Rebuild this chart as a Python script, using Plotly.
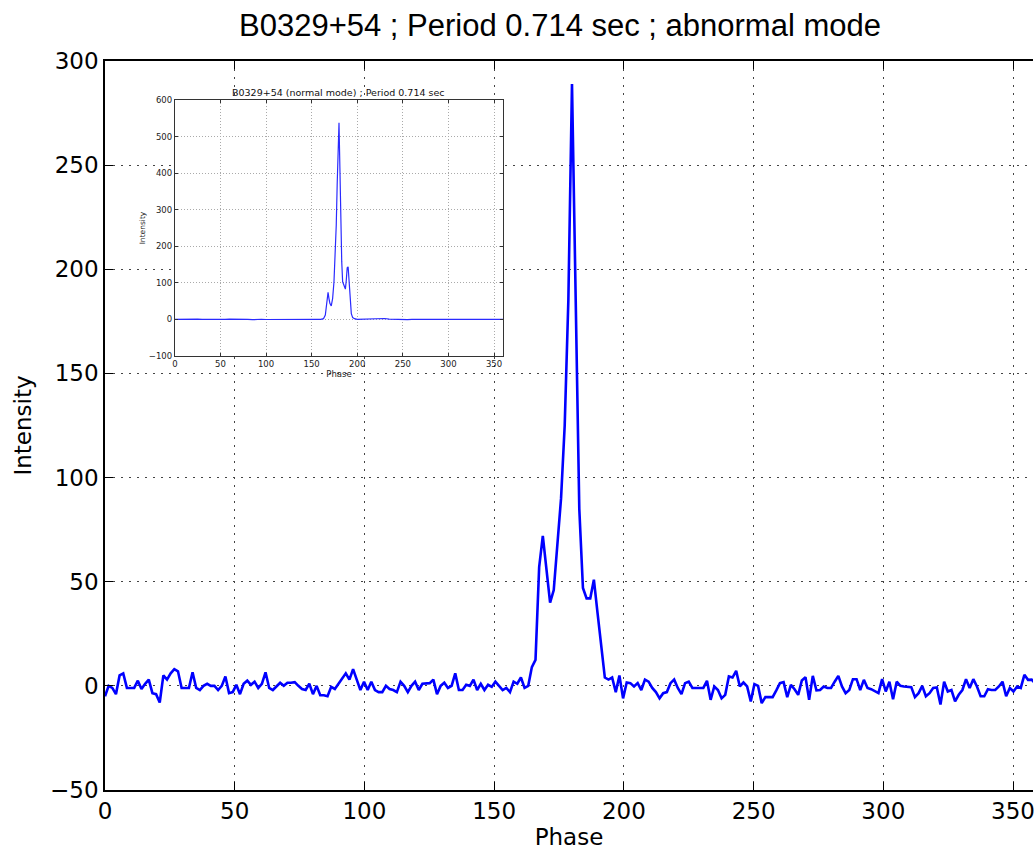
import plotly.graph_objects as go

# ---------------- data ----------------
N_BINS = 256
phase = [i * 360 / N_BINS for i in range(N_BINS)]

intensity_abnormal = [
    # bins 0-48
    -5, 0, -1, -4, 5, 6, -1, -1, -1, 2.5,
    -1.5, 1, 3, -3.5, -4, -8, 5, 3, 6, 8,
    7, -1, -1, -1, 6.5, -1, -2, 0, 1, 0,
    0, -2, 0, 4.5, -3.5, -3, 0.5, -4, 1, 2.5,
    0.5, 2, -1, 1, 6.5, -1, -2, 0, 1.5,
    # bins 49-101
    0, 1.5, 1.5, 1.8, 0, -1.5, -2, 1, -4, 0,
    -4.5, -4.5, -5, -0.5, -1.5, 1, 3.5, 6, 3, 8,
    3, -2, 2, -2, 2, -2, -3, -3, 0, -1.5,
    -2, -3, 2, 0, -3, 0, 2, -2, 1, 1,
    1.3, 3, -4, 0, 1.5, -1, 0, 6, -2, -2,
    0.5, 0, 3,
    # bins 102-118
    -2, 1, -2, 0.5, -0.5, 2, 0, -2, -1, -3, 2, 1, 4, -1, 0, 9, 12.5,
    # bins 119-138 (pulse)
    57, 72, 55, 40, 46, 66, 90, 125, 185, 289,
    190, 85, 47, 42, 42, 51, 35, 20, 4, 3,
    # bins 139-161
    4, -3, 5, -6, 1.6, 1.3, -0.3, 1.3, -2, 3,
    2, -1, -3, -6, -3.5, -3, 1.3, 3, -1, -4,
    1.3, 2, -1,
    # bins 162-198
    -1, -1, -1, 2.4, -6.7, -0.3, -2, -6, -4.3, 4.5,
    4, 7.2, -0.3, 1.6, -0.3, -7.5, 0.8, 0, -8.3, -5.4,
    -5.4, -5.4, -2.2, 1.3, 1.8, -5.4, 0.5, -1.6, -4.3, 2.6,
    4.2, -6.7, 4.8, -2.2, -2, -0.3, -1,
    # bins 199-255
    -1, 2, 4.8, -0.3, -3.5, -2, 3.2, 3.2, -2, 2.9,
    -1, -1.6, -2.7, -3.5, 3.2, -2.7, 2, -6.4, 2, 0,
    -0.3, -0.5, -0.6, -5.4, -3.5, 0, -5, -3.5, -1, -0.8,
    -9, 2, -2.7, -2, -7.5, -4.3, -2, 3.2, -1, 3.2,
    -0.3, -5, -5, -1.6, -2, -2, -0.3, 2, -5, -1,
    -2.7, -0.3, -1, 5.3, 2.9, 3, 1,
]

inset_phase = [
    0, 5, 10, 15, 20, 25, 30, 35, 40, 45, 50, 55, 60, 65, 70, 75,
    80, 85, 90, 95, 100, 105, 110, 115, 120, 125, 130, 135, 140, 145, 150, 155,
    160, 163, 165, 166.5, 168, 169, 170, 171.5, 173, 174.5, 176, 177, 178, 179,
    180, 181, 182, 183, 184, 185.5, 187, 188, 189, 190, 191, 192, 193.5, 195, 197, 200,
    205, 210, 215, 220, 225, 230, 235, 240, 245, 250, 255, 260, 265, 270, 275, 280,
    285, 290, 295, 300, 305, 310, 315, 320, 325, 330, 335, 340, 345, 350, 355, 360,
]
inset_intensity = [
    0, 0.5, 1, -0.5, 0.5, 1, 0.3, -0.5, 0, 0.5, -0.3, 0, 0.8, 1, -0.5, 0.2,
    0, -0.8, 0.3, 0.5, -0.2, 0, 0.4, -0.6, 0.2, 0.5, 0.3, 0, -0.4, 0.2, 0.6, 0.5,
    0, 2, 12, 40, 74, 57, 44, 37, 57, 103, 185, 258, 367, 495,
    538, 412, 258, 158, 103, 91, 83, 107, 141, 144, 103, 48, 16, 5, 2, 0,
    0.5, 1, 0.3, 0.8, 1.2, 2.5, 1, 0.3, 0, 0.5, -0.5, 0.2, 0, -0.3, 0.5, -0.5,
    0.2, 0.6, -0.2, 0, 0.5, 0.3, 1, 0.5, 0.2, -0.3, 0, 0.4, -0.2, 0, 0.3, 0,
]

main_xticks = [0, 50, 100, 150, 200, 250, 300, 350]
main_yticks = [-50, 0, 50, 100, 150, 200, 250, 300]
inset_xticks = [0, 50, 100, 150, 200, 250, 300, 350]
inset_yticks = [-100, 0, 100, 200, 300, 400, 500, 600]

# ---------------- figure ----------------
W, H = 1035, 850
ML, MR, MT, MB = 105, 0, 61, 60
PW, PH = W - ML - MR, H - MT - MB

def px_x(px):
    return (px - ML) / PW

def px_y(py):
    return (H - MB - py) / PH

fig = go.Figure()

fig.add_trace(go.Scatter(
    x=phase, y=intensity_abnormal, mode="lines",
    line=dict(color="#0000ff", width=2.6),
    xaxis="x", yaxis="y", showlegend=False, hoverinfo="skip",
))

fig.add_trace(go.Scatter(
    x=inset_phase, y=inset_intensity, mode="lines",
    line=dict(color="#2a2aff", width=1.2),
    xaxis="x2", yaxis="y2", showlegend=False, hoverinfo="skip",
))

tick_font = dict(family="DejaVu Sans", size=23, color="#000000")
inset_font = dict(family="DejaVu Sans", size=8.5, color="#222222")

fig.update_layout(
    width=W, height=H,
    margin=dict(l=ML, r=MR, t=MT, b=MB, pad=0),
    paper_bgcolor="white", plot_bgcolor="white",
    title=dict(
        text="B0329+54 ; Period 0.714 sec ; abnormal mode",
        font=dict(family="Liberation Sans", size=31, color="#000000"),
        xref="container", yref="container",
        x=560 / W, y=1 - 25 / H, xanchor="center", yanchor="middle",
    ),
    xaxis=dict(
        range=[0, PW / 2.6], tickvals=main_xticks,
        ticks="inside", ticklen=8, tickwidth=1, tickcolor="#000",
        showline=True, linecolor="#000", linewidth=1.5, mirror="ticks",
        showgrid=True, gridcolor="#444", gridwidth=1, griddash="2px,6px",
        zeroline=False, tickfont=tick_font, ticklabeloverflow="allow",
        title=dict(text="Phase", font=tick_font, standoff=4),
        domain=[0, 1],
    ),
    yaxis=dict(
        range=[-50, 300], tickvals=main_yticks,
        ticks="inside", ticklen=8, tickwidth=1, tickcolor="#000",
        showline=True, linecolor="#000", linewidth=1.5, mirror=False,
        showgrid=True, gridcolor="#444", gridwidth=1, griddash="2px,6px",
        zeroline=False, tickfont=tick_font, ticklabeloverflow="allow",
        title=dict(text="Intensity", font=tick_font, standoff=12),
        domain=[0, 1],
    ),
    xaxis2=dict(
        range=[0, 360], tickvals=inset_xticks,
        domain=[px_x(175), px_x(504)], anchor="y2",
        ticks="inside", ticklen=3, tickwidth=1, tickcolor="#333",
        showline=True, linecolor="#333", linewidth=1, mirror="ticks",
        showgrid=True, gridcolor="#aaa", gridwidth=1, griddash="1px,2px",
        zeroline=False, tickfont=inset_font,
        title=dict(text="Phase", font=inset_font, standoff=0),
    ),
    yaxis2=dict(
        range=[-100, 600], tickvals=inset_yticks,
        domain=[px_y(356), px_y(100)], anchor="x2",
        ticks="inside", ticklen=3, tickwidth=1, tickcolor="#333",
        showline=True, linecolor="#333", linewidth=1, mirror="ticks",
        showgrid=True, gridcolor="#aaa", gridwidth=1, griddash="1px,2px",
        zeroline=False, tickfont=inset_font,
        title=dict(text="Intensity", font=dict(family="DejaVu Sans", size=7.5, color="#222"), standoff=2),
    ),
    annotations=[dict(
        text="B0329+54 (normal mode) ; Period 0.714 sec",
        xref="paper", yref="paper",
        x=px_x(339.5), y=px_y(92), xanchor="center", yanchor="middle",
        showarrow=False, font=dict(family="DejaVu Sans", size=9.5, color="#111"),
    )],
)

# white backdrop of the inset image (hides main grid behind it)
fig.add_shape(
    type="rect", xref="x2", yref="y2", layer="below",
    x0=-49, x1=409, y0=-193, y1=704,
    fillcolor="white", line=dict(width=0),
)

fig.write_html("out.html")
